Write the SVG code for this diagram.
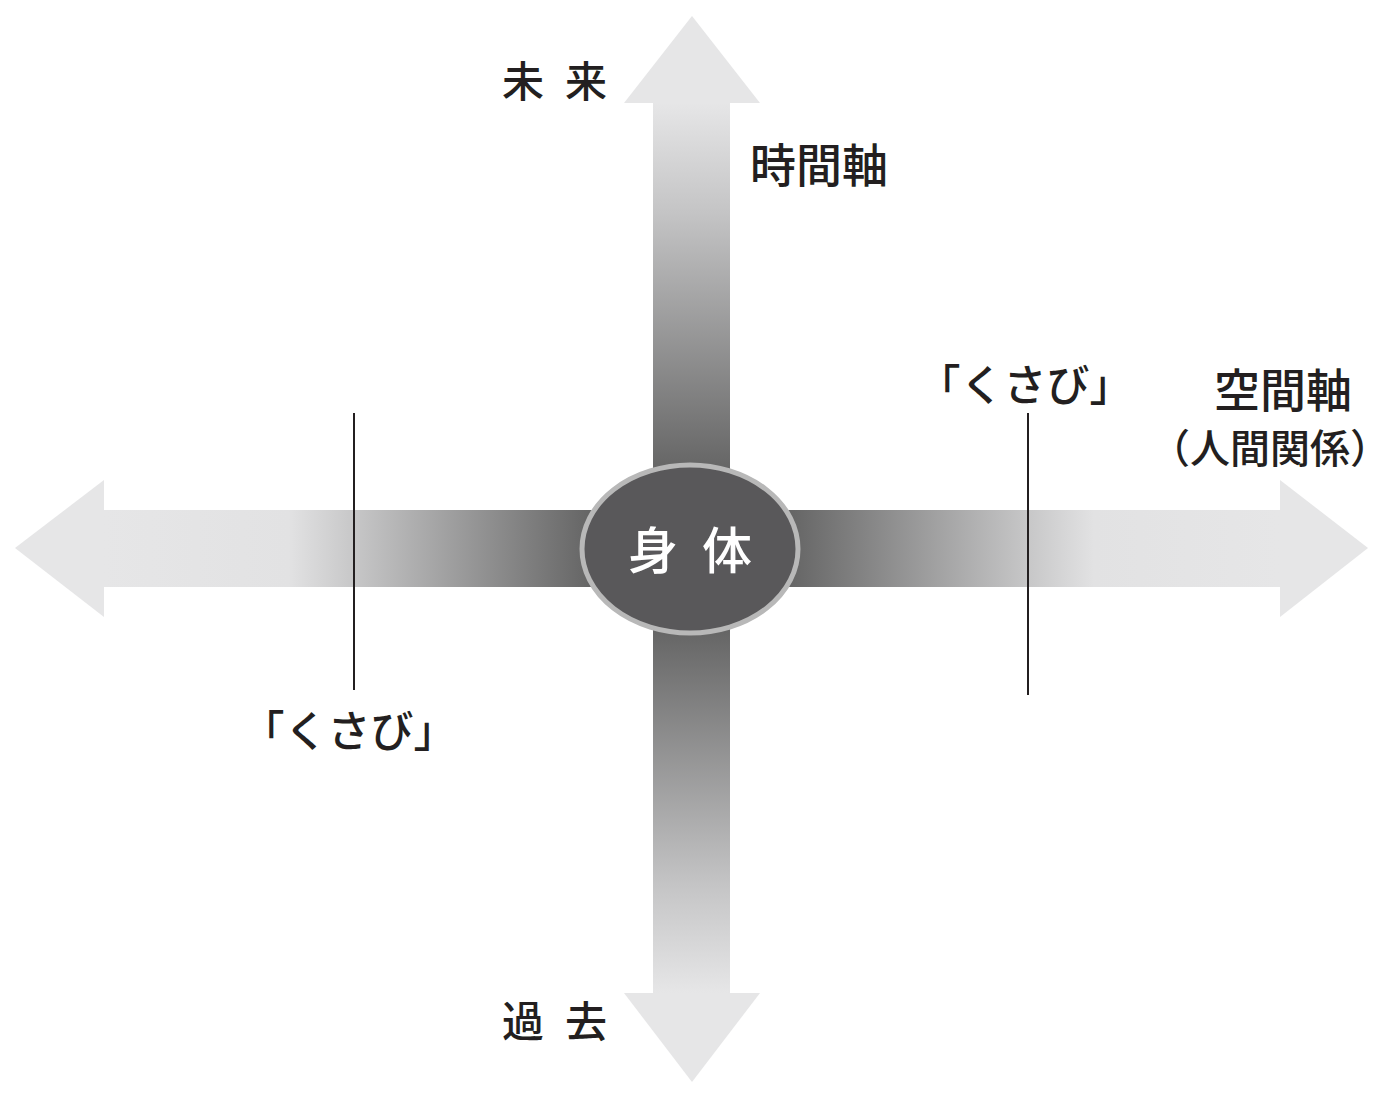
<svg xmlns="http://www.w3.org/2000/svg" width="1400" height="1097" viewBox="0 0 1400 1097">
<style>
.t{font-family:"Noto Sans CJK JP","Noto Sans",sans-serif;fill:#231f20;font-weight:500}
.lead{stroke:#231f20;stroke-width:2;fill:none}
</style>
<defs>
<linearGradient id="gUp" gradientUnits="userSpaceOnUse" x1="0" y1="103" x2="0" y2="470">
<stop offset="0" stop-color="#e6e6e7"/><stop offset="0.3" stop-color="#c4c4c5"/><stop offset="1" stop-color="#656565"/>
</linearGradient>
<linearGradient id="gDown" gradientUnits="userSpaceOnUse" x1="0" y1="630" x2="0" y2="993">
<stop offset="0" stop-color="#656565"/><stop offset="0.7" stop-color="#c4c4c5"/><stop offset="1" stop-color="#e6e6e7"/>
</linearGradient>
<linearGradient id="gLeft" gradientUnits="userSpaceOnUse" x1="104" y1="0" x2="590" y2="0">
<stop offset="0" stop-color="#e6e6e7"/><stop offset="0.38" stop-color="#e2e2e3"/><stop offset="1" stop-color="#656565"/>
</linearGradient>
<linearGradient id="gRight" gradientUnits="userSpaceOnUse" x1="790" y1="0" x2="1280" y2="0">
<stop offset="0" stop-color="#656565"/><stop offset="0.62" stop-color="#e2e2e3"/><stop offset="1" stop-color="#e6e6e7"/>
</linearGradient>
</defs>
<g id="connectors">
<rect x="653" y="102" width="77" height="380" fill="url(#gUp)"/>
<polygon points="692,16 760,103 624,103" fill="#e6e6e7"/>
<rect x="653" y="620" width="77" height="374" fill="url(#gDown)"/>
<polygon points="692,1082 760,993 624,993" fill="#e6e6e7"/>
<rect x="103" y="510" width="490" height="77" fill="url(#gLeft)"/>
<polygon points="15,548 104,480 104,617" fill="#e6e6e7"/>
<rect x="788" y="510" width="493" height="77" fill="url(#gRight)"/>
<polygon points="1368,548 1280,480 1280,617" fill="#e6e6e7"/>
<line class="lead" x1="354" y1="413" x2="354" y2="690"/>
<line class="lead" x1="1028" y1="413" x2="1028" y2="695"/>
</g>
<g id="body">
<ellipse cx="690" cy="549" rx="108" ry="84" fill="#59585a" stroke="#b8b8b8" stroke-width="5"/>
<text x="702" y="569" text-anchor="middle" font-family="Noto Sans CJK JP,sans-serif" font-weight="500" font-size="50" fill="#ffffff" letter-spacing="24">身体</text>
</g>
<g id="future"><text class="t" x="502" y="97" font-size="42" letter-spacing="21">未来</text></g>
<g id="past"><text class="t" x="502" y="1037" font-size="42" letter-spacing="21">過去</text></g>
<g id="time-axis"><text class="t" x="750" y="182" font-size="46">時間軸</text></g>
<g id="space-axis">
<text class="t" x="1283" y="407" font-size="46" text-anchor="middle">空間軸</text>
<text class="t" x="1270" y="463" font-size="40" text-anchor="middle">（人間関係）</text>
</g>
<g id="wedge-right"><text class="t" x="1025" y="401" font-size="43" text-anchor="middle">「くさび」</text></g>
<g id="wedge-left"><text class="t" x="349" y="747" font-size="43" text-anchor="middle">「くさび」</text></g>
</svg>
